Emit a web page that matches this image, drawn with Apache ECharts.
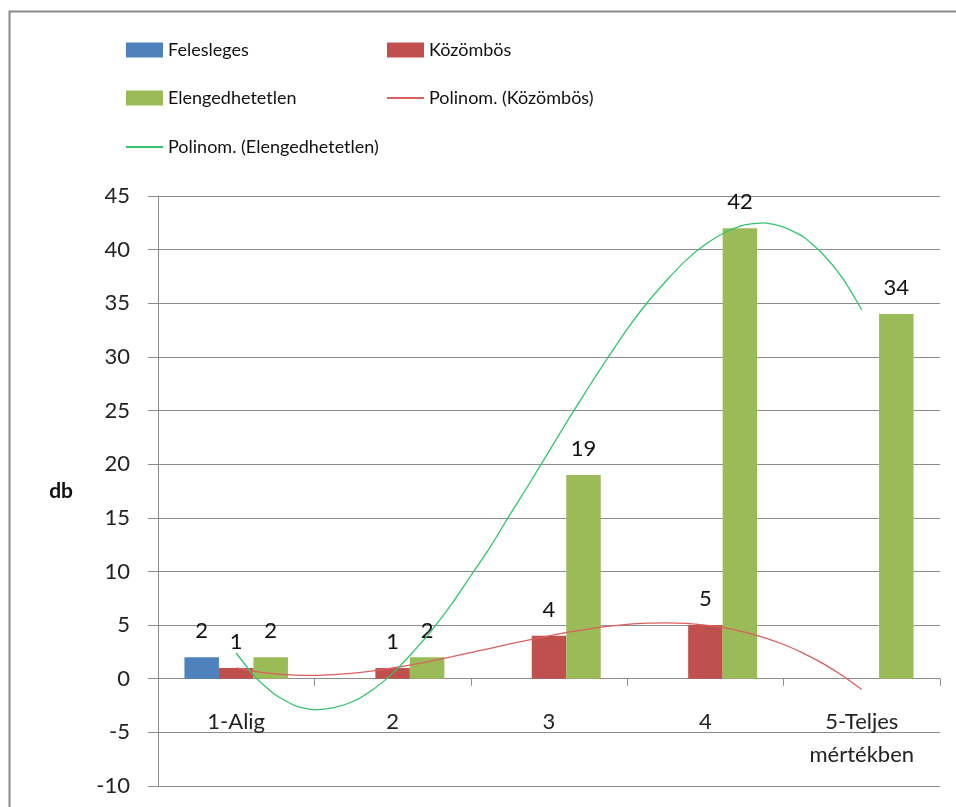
<!DOCTYPE html>
<html>
<head>
<meta charset="utf-8">
<script src="https://cdn.jsdelivr.net/npm/echarts@6/dist/echarts.min.js"></script>
<style>
html,body{margin:0;padding:0;background:#fff;}
#chart{width:956px;height:807px;}
</style>
</head>
<body>
<div id="chart"></div>
<script>
// ---- data ----
const categories = ['1-Alig', '2', '3', '4', '5-Teljes\nmértékben'];
const felesleges = [2, null, null, null, null];
const kozombos = [1, 1, 4, 5, null];
const elengedhetetlen = [2, 2, 19, 42, 34];
const yTicks = { min: -10, max: 45, interval: 5 };
// trendline readings (position along category axis, value)
const trendX = [1, 1.125, 1.25, 1.375, 1.5, 1.625, 1.75, 1.875, 2, 2.125, 2.25, 2.375, 2.5, 2.625, 2.75, 2.875,
                3, 3.125, 3.25, 3.375, 3.5, 3.625, 3.75, 3.875, 4, 4.125, 4.25, 4.375, 4.5, 4.625, 4.75, 4.875, 5];
const trendKozombos = [1.0, 0.67, 0.45, 0.33, 0.31, 0.38, 0.52, 0.73, 1.0, 1.31, 1.66, 2.04, 2.44, 2.84, 3.24, 3.63,
                       4.0, 4.34, 4.63, 4.88, 5.06, 5.18, 5.21, 5.16, 5.0, 4.74, 4.35, 3.84, 3.19, 2.39, 1.43, 0.30, -1.0];
const trendElengedhetetlen = [2.4, 0.1, -1.5, -2.5, -2.9, -2.7, -2.1, -1.0, 0.5, 2.4, 4.5, 6.9, 9.6, 12.3, 15.3, 18.2,
                              21.2, 24.2, 27.1, 29.9, 32.6, 35.0, 37.1, 39.0, 40.5, 41.6, 42.3, 42.5, 42.1, 41.2, 39.6, 37.4, 34.4];

const FONT = 'Lato, "Open Sans", sans-serif';
const C_BLUE = '#4f81bd', C_RED = '#c0504d', C_GREEN = '#9bbb59';
const C_TR_RED = '#dc5f5f', C_TR_GREEN = '#33c46f';

const pair = (xs, ys) => xs.map((x, i) => [x, ys[i]]);

const chart = echarts.init(document.getElementById('chart'));

const GRID_TOP = 196, GRID_BOTTOM = 21, CHART_H = 807;
const plotH = CHART_H - GRID_TOP - GRID_BOTTOM;
// distance (px) from the plot bottom up to the zero line
const zeroOffset = plotH * (0 - yTicks.min) / (yTicks.max - yTicks.min);

const barLabel = {
  show: true, position: 'top', distance: 15,
  fontFamily: FONT, fontSize: 22, color: '#111'
};

function legendAt(name, left, top, isLine, color) {
  return {
    data: [isLine ? { name: name, icon: 'rect', itemStyle: { color: color } } : { name: name, icon: 'rect' }],
    left: left, top: top, orient: 'horizontal',
    itemWidth: 37, itemHeight: isLine ? 2 : 15, padding: 0,
    selectedMode: false,
    textStyle: { fontFamily: FONT, fontSize: 18, color: '#111' }
  };
}

const option = {
  animation: false,
  backgroundColor: '#fff',
  graphic: [{
    type: 'rect', left: 7, top: 9,
    shape: { width: 1000, height: 1000 },
    style: { fill: 'none', stroke: '#8a8a8a', lineWidth: 2 },
    silent: true
  }],
  legend: [
    legendAt('Felesleges', 126, 41, false),
    legendAt('Közömbös', 387, 41, false),
    legendAt('Elengedhetetlen', 126, 89, false),
    legendAt('Polinom. (Közömbös)', 387, 89, true, C_TR_RED),
    legendAt('Polinom. (Elengedhetetlen)', 126, 138, true, C_TR_GREEN)
  ],
  grid: { left: 158, right: 16, top: GRID_TOP, bottom: GRID_BOTTOM, containLabel: false, outerBoundsMode: 'none' },
  xAxis: [{
    type: 'category',
    data: categories,
    position: 'bottom',
    offset: -zeroOffset,
    axisLine: { onZero: false, lineStyle: { color: '#8c8c8c', width: 1 } },
    axisTick: { show: true, length: 7, lineStyle: { color: '#8c8c8c' } },
    axisLabel: { show: true, margin: 27, fontFamily: FONT, fontSize: 22, color: '#222', lineHeight: 33, interval: 0, hideOverlap: false },
    splitLine: { show: false }
  }, {
    type: 'value', min: 0.5, max: 5.5, show: false,
    axisLine: { onZero: false }
  }],
  yAxis: {
    type: 'value', min: yTicks.min, max: yTicks.max, interval: yTicks.interval,
    name: 'db', nameLocation: 'middle', nameRotate: 0, nameGap: 85,
    nameTextStyle: { fontFamily: FONT, fontSize: 21, fontWeight: 'bold', color: '#111' },
    axisLine: { show: true, onZero: false, lineStyle: { color: '#8c8c8c', width: 1 } },
    axisTick: { show: true, inside: false, length: 10, lineStyle: { color: '#8c8c8c' } },
    axisLabel: { margin: 28, fontFamily: FONT, fontSize: 22, color: '#222' },
    splitLine: { show: true, lineStyle: { color: '#8c8c8c', width: 1 } }
  },
  series: [
    { name: 'Felesleges', type: 'bar', data: felesleges, barWidth: 34.5, barGap: '0%',
      itemStyle: { color: C_BLUE }, label: barLabel },
    { name: 'Közömbös', type: 'bar', data: kozombos, barWidth: 34.5, barGap: '0%',
      itemStyle: { color: C_RED }, label: barLabel },
    { name: 'Elengedhetetlen', type: 'bar', data: elengedhetetlen, barWidth: 34.5, barGap: '0%',
      itemStyle: { color: C_GREEN }, label: barLabel },
    { name: 'Polinom. (Közömbös)', type: 'line', xAxisIndex: 1, data: pair(trendX, trendKozombos),
      smooth: 0.2, symbol: 'none', color: C_TR_RED, lineStyle: { color: C_TR_RED, width: 1.3 }, z: 5 },
    { name: 'Polinom. (Elengedhetetlen)', type: 'line', xAxisIndex: 1, data: pair(trendX, trendElengedhetetlen),
      smooth: 0.2, symbol: 'none', color: C_TR_GREEN, lineStyle: { color: C_TR_GREEN, width: 1.3 }, z: 5 }
  ]
};
chart.setOption(option);
</script>
</body>
</html>
